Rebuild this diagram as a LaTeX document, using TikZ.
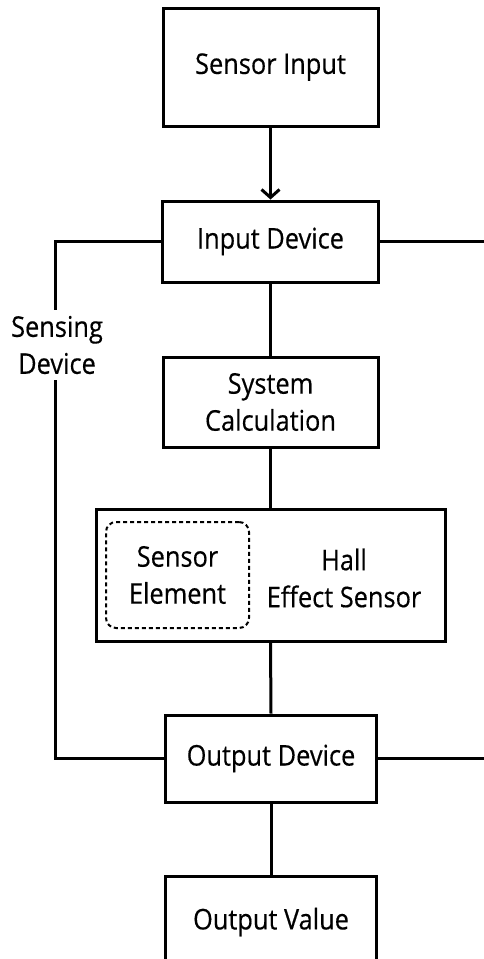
\documentclass[tikz,border=0pt]{standalone}
\usepackage{fontspec}
\setmainfont{Open Sans}[FakeStretch=0.89, FakeBold=0.4]
\usetikzlibrary{arrows.meta}

\tikzset{
    block/.style={draw, line width=3pt, align=center, inner sep=0pt},
    link/.style={line width=3pt},
}

\begin{document}
\begin{tikzpicture}[x=1pt, y=-1pt, font=\fontsize{28.5}{37}\selectfont]

    % Canvas (484 x 959)
    \fill[white] (0,0) rectangle (484,959);
    \useasboundingbox (0,0) rectangle (484,959);
    \clip (0,0) rectangle (484,959);

    % ==========================================
    % MAIN CHAIN
    % ==========================================

    \node[block, minimum width=215pt, minimum height=118pt] (sensorin) at (270.5, 67) {Sensor Input};
    \node[block, minimum width=216pt, minimum height=81pt] (inputdev) at (270.5, 241.5) {Input Device};
    \node[block, minimum width=215pt, minimum height=90pt] (syscalc) at (270.5, 402) {System\\Calculation};

    % Hall effect sensor with its element
    \node[block, minimum width=349pt, minimum height=132pt] (hall) at (270.5, 575) {};
    \node[draw, dashed, line width=2pt, dash pattern=on 4pt off 3pt, rounded corners=10pt,
          minimum width=143pt, minimum height=106pt, align=center] (element) at (177.5, 575) {Sensor\\Element};
    \node[align=center] (halltxt) at (344, 578) {Hall\\Effect Sensor};

    \node[block, minimum width=211pt, minimum height=87pt] (outdev) at (271, 758.5) {Output Device};
    \node[block, minimum width=211pt, minimum height=92pt] (outval) at (271, 922) {Output Value};

    % Connectors
    \draw[link, -{Straight Barb[length=8pt, width=18pt]}] (sensorin.south) -- (inputdev.north);
    \draw[link] (inputdev.south) -- (syscalc.north);
    \draw[link] (syscalc.south) -- (hall.north);
    \draw[link] (hall.south) -- (outdev.north);
    \draw[link] (outdev.south) -- (outval.north);

    % ==========================================
    % SENSING DEVICE BRACKET
    % ==========================================

    \node[inner xsep=0pt, inner ysep=6pt, align=center] (sensing) at (57, 345) {Sensing\\Device};
    \coordinate (rtop) at (484, 241.5);
    \coordinate (rbot) at (484, 758.5);

    \draw[link] (inputdev.west) -| (sensing.north -| 55,0);
    \draw[link] (sensing.south -| 55,0) |- (outdev.west);

    % Lines running off to the right
    \draw[link] (inputdev.east) -- (rtop);
    \draw[link] (outdev.east) -- (rbot);

\end{tikzpicture}
\end{document}
